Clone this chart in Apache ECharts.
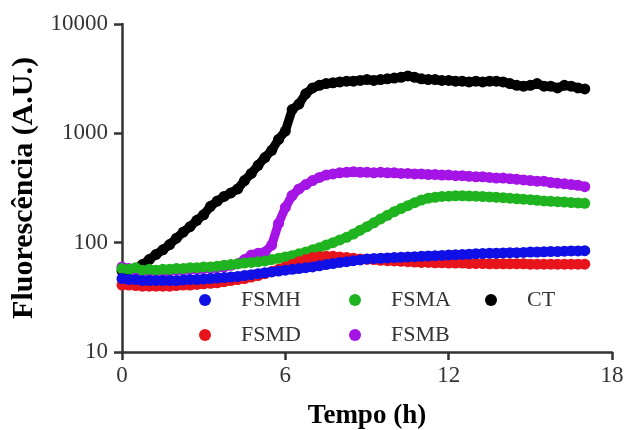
<!DOCTYPE html>
<html>
<head>
<meta charset="utf-8">
<script src="https://cdn.jsdelivr.net/npm/echarts@6/dist/echarts.min.js"></script>
<style>
html,body{margin:0;padding:0;background:#fff;}
#chart{width:624px;height:430px;}
</style>
</head>
<body>
<div id="chart"></div>
<script>
// sampling times (h)
var hours = [0,0.25,0.5,0.75,1,1.25,1.5,1.75,2,2.25,2.5,2.75,3,3.25,3.5,3.75,4,4.25,4.5,4.75,5,5.25,5.5,5.75,6,6.25,6.5,6.75,7,7.25,7.5,7.75,8,8.25,8.5,8.75,9,9.25,9.5,9.75,10,10.25,10.5,10.75,11,11.25,11.5,11.75,12,12.25,12.5,12.75,13,13.25,13.5,13.75,14,14.25,14.5,14.75,15,15.25,15.5,15.75,16,16.25,16.5,16.75,17];

var seriesNames = ['CT','FSMB','FSMA','FSMD','FSMH'];

var ctValues = [55,56,58,63,70,78,86,96,110,125,140,160,180,215,240,265,285,310,370,430,510,600,700,880,1050,1650,1850,2300,2600,2750,2850,2900,2950,3000,3000,3050,3100,3050,3100,3150,3200,3250,3350,3250,3150,3100,3100,3050,3050,3000,3000,2950,3000,2950,3000,3000,2950,2850,2750,2700,2750,2850,2700,2700,2600,2750,2700,2600,2550];

var fsmbValues = [60,58,56,55,55,55,55,55,56,56,57,57,58,58,59,60,62,64,70,77,80,82,95,150,210,270,310,340,370,395,415,425,435,440,445,440,440,435,440,435,435,430,430,425,425,420,420,415,415,410,410,405,400,400,395,390,390,385,380,375,370,365,365,355,350,345,340,335,325];

var fsmaValues = [58,57,59,56,57,56,57,57,58,58,59,59,60,60,61,62,63,64,65,66,67,68,70,72,74,76,79,82,86,90,95,100,106,112,120,130,140,152,165,178,192,205,218,232,245,255,260,265,266,268,268,267,266,264,262,260,258,255,252,250,247,244,241,239,237,235,233,231,229];

var fsmdValues = [41,41,40.5,40,40,40,40,40,40.5,41,41,41.5,42,42.5,43,44,45,46,47,48.5,50,52,54.5,57,60,63,67,70,73,74.5,75,75,74,73,72,71,70.5,70,69,68.5,68,67.5,67,66.5,66,66,65.5,65.5,65,65,65,64.5,64.5,64.5,64,64,64,64,64,64,63.5,63.5,63.5,63.5,63.5,63.5,63.5,63.5,63.5];

var fsmhValues = [47,46,46,45,45,45,45,45,45,45.5,46,46,46.5,47,47.5,48,48.5,49,50,51,52,53,54,55,56,57,58,59,60,61.5,63,64.5,66,67,68.5,69.5,71,71.5,72,72.5,73,73.5,74,74.5,75,75.5,76,76.5,77,77.5,78,78.5,79,79.5,80,80,80.5,81,81,81.5,82,82,82.5,83,83,83.5,84,84,84.5];

var seriesColors = ['#000000','#a514e6','#1fb41f','#e8141c','#1010e6'];

var xTicks = [0,6,12,18];
var yTicks = [10,100,1000,10000];

var legendOrder = ['FSMH','FSMA','CT','FSMD','FSMB'];

var valueSets = {CT: ctValues, FSMB: fsmbValues, FSMA: fsmaValues, FSMD: fsmdValues, FSMH: fsmhValues};

function pairs(vals){
  var out = [];
  for (var i = 0; i < vals.length; i++) out.push([hours[i], vals[i]]);
  return out;
}

var FONT = 'Liberation Serif';

var series = seriesNames.map(function(n, i){
  return {
    name: n,
    type: 'line',
    symbol: 'circle',
    symbolSize: 11,
    showSymbol: true,
    showAllSymbol: true,
    itemStyle: {color: seriesColors[i], opacity: 1},
    lineStyle: {color: seriesColors[i], width: 9},
    emphasis: {disabled: true},
    data: pairs(valueSets[n])
  };
});

// legend positions (left edge of the dot, top)
var legendPos = {
  FSMH: [199, 289],
  FSMD: [199, 324],
  FSMA: [349, 289],
  FSMB: [349, 324],
  CT:   [485, 289]
};

var legends = legendOrder.map(function(n){
  return {
    data: [{name: n, icon: 'circle'}],
    left: legendPos[n][0],
    top: legendPos[n][1],
    padding: 0,
    itemWidth: 12,
    itemHeight: 12,
    selectedMode: false,
    formatter: function(name){ return '{p|}{t|' + name + '}'; },
    textStyle: {
      fontFamily: FONT, fontSize: 22, color: '#333',
      rich: {
        p: {width: 25},
        t: {fontFamily: FONT, fontSize: 22, color: '#333'}
      }
    }
  };
});

var chart = echarts.init(document.getElementById('chart'), null, {renderer: 'canvas'});
chart.setOption({
  animation: false,
  backgroundColor: '#ffffff',
  legend: legends,
  grid: {left: 122, top: 24, right: 12, bottom: 78, containLabel: false, outerBoundsMode: 'none'},
  xAxis: {
    type: 'value',
    min: xTicks[0],
    max: xTicks[xTicks.length - 1],
    interval: xTicks[1] - xTicks[0],
    name: 'Tempo (h)',
    nameLocation: 'middle',
    nameGap: 51,
    nameTextStyle: {fontFamily: FONT, fontSize: 27, fontWeight: 'bold', color: '#000'},
    axisLine: {show: true, lineStyle: {color: '#333', width: 2.5}},
    axisTick: {show: true, length: 8, lineStyle: {color: '#333', width: 2.5}},
    axisLabel: {fontFamily: FONT, fontSize: 23, color: '#333', margin: 12},
    splitLine: {show: false}
  },
  yAxis: {
    type: 'log',
    logBase: 10,
    min: yTicks[0],
    max: yTicks[yTicks.length - 1],
    name: 'Fluorescência (A.U.)',
    nameLocation: 'middle',
    nameGap: 80,
    nameTextStyle: {fontFamily: FONT, fontSize: 30, fontWeight: 'bold', color: '#000'},
    axisLine: {show: true, lineStyle: {color: '#333', width: 2.5}},
    axisTick: {show: true, length: 8, lineStyle: {color: '#333', width: 2.5}},
    axisLabel: {fontFamily: FONT, fontSize: 23, color: '#333', margin: 14,
      formatter: function(v){ return String(Math.round(v)); }},
    splitLine: {show: false},
    minorTick: {show: false}
  },
  series: series
});
</script>
</body>
</html>
